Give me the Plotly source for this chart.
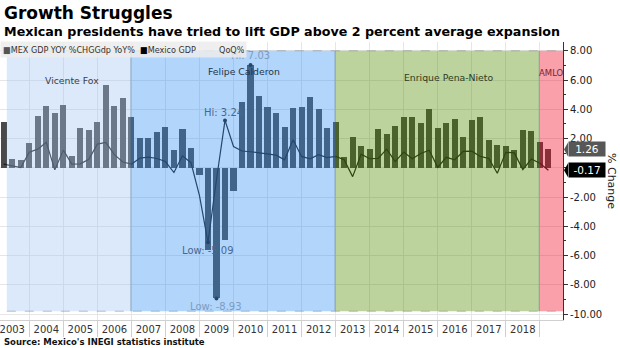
import plotly.graph_objects as go

# ---------------- data ----------------
first_year = 2003
n_quarters = 65
quarters = [f"{first_year + i // 4}Q{i % 4 + 1}" for i in range(n_quarters)]

gdp_yoy = [3.15, 0.59, 0.55, 1.71, 3.54, 4.22, 3.77, 4.29, 0.78, 2.74, 2.60, 3.15, 5.66,
           4.25, 4.77, 3.47, 2.05, 2.03, 2.47, 2.76, 1.23, 2.67, 1.35, -0.48, -5.60, -8.93,
           -4.93, -1.58, 4.52, 7.03, 4.89, 4.18, 3.72, 2.81, 4.06, 4.16, 4.84, 4.02, 2.74,
           3.13, 0.71, 2.12, 1.48, 1.26, 2.65, 2.31, 2.88, 3.47, 3.49, 3.06, 4.02, 2.72,
           3.06, 3.36, 2.10, 3.29, 3.47, 1.92, 1.53, 1.48, 1.23, 2.58, 2.51, 1.74, 1.26]

gdp_qoq = [0.25, 0.14, 0.02, 1.07, 1.28, 1.74, -0.14, 1.21, 0.25, 0.27, 0.59, 1.62, 1.74,
           0.90, 0.40, 0.25, 0.66, 0.73, 0.64, 0.43, -0.32, 0.82, 0.35, -1.90, -5.09, -0.80,
           3.24, 1.46, 1.15, 1.10, 1.03, 0.95, 0.87, 0.55, 1.92, 0.78, 0.62, 0.90, 0.70,
           0.78, 0.55, -0.60, 0.93, 0.62, 0.64, 1.28, 0.43, 1.08, 0.62, 0.98, 1.20, 0.03,
           0.72, 0.55, 1.12, 1.14, 0.78, 0.64, -0.37, 1.06, 1.02, -0.12, 0.60, 0.32, -0.17]

era_names = ["Vicente Fox", "Felipe Calderon", "Enrique Pena-Nieto", "AMLO"]
era_start = [2003.34, 2006.98, 2012.98, 2018.98]
era_end = [2006.98, 2012.98, 2018.98, 2019.68]
era_fill = ["#a0c5f5", "#3291f5", "#4f8b00", "#ef0522"]
era_label_x = [2005.25, 2010.30, 2016.31, 2019.33]
era_label_y = [6.0, 6.6, 6.15, 6.5]
era_label_color = ["#38424d", "#1f3550", "#2e3c1f", "#7a1f2e"]

year_labels = list(range(2003, 2019))
year_bounds = list(range(2004, 2020))
y_ticks = [-10, -8, -6, -4, -2, 0, 2, 4, 6, 8]

# ---------------- helpers ----------------
def q_end(label):
    y, q = label.split("Q")
    return int(y) + int(q) * 0.25

x = [q_end(q) for q in quarters]

X_RANGE = [2003.14, 2019.68]
Y_RANGE = [-10.4, 8.6]
SHADE_Y = [-9.8, 8.0]
FONT = "DejaVu Sans"

fig = go.Figure()
fig.add_trace(go.Bar(x=x, y=gdp_yoy, width=0.18, marker=dict(color="#4a4a4a", line=dict(width=0)),
                     name="MEX GDP YOY %CHGGdp YoY%", showlegend=False))
fig.add_trace(go.Scatter(x=x, y=gdp_qoq, mode="lines", line=dict(color="#1a1a1a", width=1.2),
                         name="Mexico GDP QoQ%", showlegend=False))

# extremes
i_bmax = max(range(n_quarters), key=lambda i: gdp_yoy[i])
i_bmin = min(range(n_quarters), key=lambda i: gdp_yoy[i])
i_lmax = max(range(n_quarters), key=lambda i: gdp_qoq[i])
i_lmin = min(range(n_quarters), key=lambda i: gdp_qoq[i])
fig.add_trace(go.Scatter(
    x=[x[i_bmax], x[i_bmin], x[i_lmax], x[i_lmin]],
    y=[gdp_yoy[i_bmax], gdp_yoy[i_bmin], gdp_qoq[i_lmax], gdp_qoq[i_lmin]],
    mode="markers", marker=dict(color="#1a1a1a", size=4), showlegend=False))

shapes = []
for s, e, c in zip(era_start, era_end, era_fill):
    shapes.append(dict(type="rect", xref="x", yref="y", x0=s, x1=e, y0=SHADE_Y[0], y1=SHADE_Y[1],
                       fillcolor=c, opacity=0.38, layer="above", line=dict(width=0)))
for s in era_start[1:]:
    shapes.append(dict(type="line", xref="x", yref="y", x0=s, x1=s, y0=SHADE_Y[0], y1=SHADE_Y[1],
                       line=dict(color="rgba(90,110,130,0.35)", width=1), layer="above"))
for yv in SHADE_Y:
    shapes.append(dict(type="line", xref="x", yref="y", x0=era_start[0], x1=era_end[-1], y0=yv, y1=yv,
                       line=dict(color="rgba(120,120,120,0.45)", width=1, dash="dash"), layer="above"))

annotations = []
for name, lx, ly, lc in zip(era_names, era_label_x, era_label_y, era_label_color):
    annotations.append(dict(x=lx, y=ly, xref="x", yref="y", text=name, showarrow=False,
                            font=dict(family=FONT, size=9.3 if name != "AMLO" else 8.5, color=lc)))

light = "#7e9cc0"
dark = "#48688f"
annotations += [
    dict(x=x[i_bmax], y=gdp_yoy[i_bmax], yshift=9, text=f"Hi: {gdp_yoy[i_bmax]:.2f}",
         showarrow=False, font=dict(family=FONT, size=10, color=light)),
    dict(x=x[i_bmin], y=gdp_yoy[i_bmin], yshift=-8, text=f"Low: {gdp_yoy[i_bmin]:.2f}",
         showarrow=False, font=dict(family=FONT, size=10, color=light)),
    dict(x=x[i_lmax], y=gdp_qoq[i_lmax], yshift=8, xshift=-2, text=f"Hi: {gdp_qoq[i_lmax]:.2f}",
         showarrow=False, font=dict(family=FONT, size=10, color=dark)),
    dict(x=x[i_lmin], y=gdp_qoq[i_lmin], yshift=-8, text=f"Low: {gdp_qoq[i_lmin]:.2f}",
         showarrow=False, font=dict(family=FONT, size=10, color=dark)),
]

# last value tags
PW = 563.0
for val, bg in [(gdp_yoy[-1], "#575757"), (gdp_qoq[-1], "#000000")]:
    annotations.append(dict(x=568 / PW, y=val, xref="paper", yref="y", xanchor="left",
                            yanchor="middle", text=f"{val:.2f}", showarrow=False,
                            bgcolor=bg, width=32, height=10, borderpad=2, align="center",
                            font=dict(family=FONT, size=10.5, color="white")))
    shapes.append(dict(type="path", xref="paper", yref="y", xsizemode="pixel", ysizemode="pixel",
                       xanchor=568 / PW, yanchor=val, path="M -4,0 L 0,7 L 0,-7 Z",
                       fillcolor=bg, line=dict(width=0), layer="above"))

annotations += [
    dict(x=612 / PW, y=0.5, xref="paper", yref="paper", xanchor="center", yanchor="middle",
         text="% Change", textangle=90,
         showarrow=False, font=dict(family=FONT, size=11, color="#222")),
    dict(x=0.0035, y=1.106, xref="paper", yref="paper", xanchor="left", yanchor="middle",
         text="<b>Growth Struggles</b>", showarrow=False,
         font=dict(family=FONT, size=17, color="#000")),
    dict(x=0.0035, y=1.0375, xref="paper", yref="paper", xanchor="left", yanchor="middle",
         text="<b>Mexican presidents have tried to lift GDP above 2 percent average expansion</b>",
         showarrow=False, font=dict(family=FONT, size=12.7, color="#000")),
    dict(x=0.0035, y=-0.079, xref="paper", yref="paper", xanchor="left", yanchor="middle",
         text="<b>Source: Mexico's INEGI statistics institute</b>", showarrow=False,
         font=dict(family=FONT, size=8.5, color="#111")),
    dict(x=0, y=0.9726, xref="paper", yref="paper", xanchor="left", yanchor="middle",
         text=('<span style="color:#555">■</span>MEX GDP YOY %CHGGdp YoY%\u00a0\u00a0'
               '<span style="color:#000">■</span>Mexico GDP' + '\u00a0' * 9 + 'QoQ%'),
         showarrow=False, align="left", bgcolor="rgba(236,236,236,0.85)",
         width=241, height=11, borderpad=2,
         font=dict(family="DejaVu Sans Condensed, Liberation Sans Narrow, DejaVu Sans",
                   size=9, color="#333")),
]

fig.update_layout(
    width=620, height=348,
    margin=dict(l=0, r=57, t=42, b=28),
    paper_bgcolor="white", plot_bgcolor="white",
    showlegend=False, bargap=0,
    shapes=shapes, annotations=annotations,
    xaxis=dict(range=X_RANGE, tickmode="array", tickvals=[yv + 0.5 for yv in year_labels],
               ticktext=[str(yv) for yv in year_labels], ticks="", showgrid=False,
               ticklabeloverflow="allow",
               zeroline=False, showline=True, linecolor="#d0d0d0", linewidth=1,
               tickfont=dict(family=FONT, size=10, color="#333"),
               minor=dict(tickmode="array", tickvals=year_bounds, ticks="outside", ticklen=16,
                          tickcolor="#cfcfcf", tickwidth=1, showgrid=True,
                          gridcolor="#e6e6e6", gridwidth=1)),
    yaxis=dict(range=Y_RANGE, side="right", tickmode="array", tickvals=y_ticks,
               ticktext=[f"{v:.2f}" for v in y_ticks], ticks="outside", ticklen=4,
               tickcolor="#333", showline=True, linecolor="#333", linewidth=1,
               showgrid=True, gridcolor="#e6e6e6", zeroline=False,
               tickfont=dict(family=FONT, size=10, color="#222"),
               minor=dict(dtick=1, ticks="outside", ticklen=2, tickcolor="#333", showgrid=False)),
)

fig.write_html("out.html")
